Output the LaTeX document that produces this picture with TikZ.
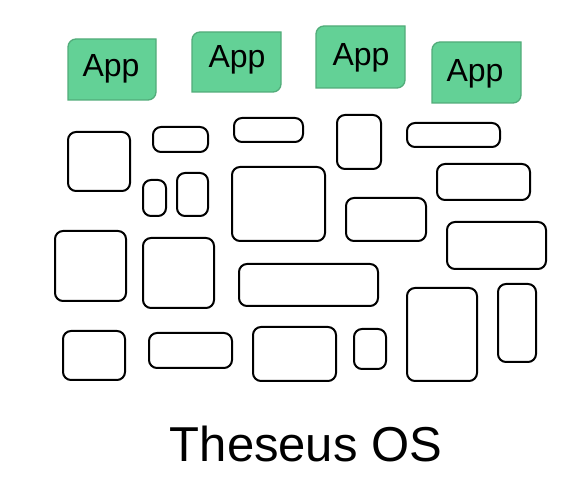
\documentclass[tikz,border=0pt]{standalone}
\usepackage{fontspec}
\setmainfont{Liberation Sans}
\definecolor{appfill}{RGB}{99,209,150}
\definecolor{appline}{RGB}{82,172,122}
\newcommand\blkbox[5]{%
  \node[blk, minimum width={(#4-#2-2)*1pt}, minimum height={(#5-#3-2)*1pt}] (#1) at ({(#2+#4)/2},{(#3+#5)/2}) {};}
\newcommand\appshape[4]{%
  \draw[appbox] (#1,#4) -- (#1,#2+8) .. controls (#1,#2+3.6) and (#1+3.6,#2) .. (#1+8,#2)
    -- (#3,#2) -- (#3,#4-8) .. controls (#3,#4-3.6) and (#3-3.6,#4) .. (#3-8,#4) -- cycle;}
\begin{document}
\begin{tikzpicture}[x=1pt,y=-1pt,
  blk/.style={draw=black, line width=2pt, rounded corners=8pt, inner sep=0pt, outer sep=0pt, fill=white},
  appbox/.style={fill=appfill, draw=appline, line width=1.3pt},
  apptext/.style={anchor=base, inner sep=0pt, font=\fontsize{32}{36}\selectfont},
  title/.style={anchor=base, inner sep=0pt, font=\fontsize{49}{52}\selectfont}]
\useasboundingbox (0,0) rectangle (587,502);
% apps
\appshape{68}{39}{156}{100}
\node[apptext] (app1) at (111,77) {App};
\appshape{192}{32}{281}{92}
\node[apptext] (app2) at (237,68) {App};
\appshape{316}{26}{405}{88}
\node[apptext] (app3) at (361,66) {App};
\appshape{432}{42}{521}{103}
\node[apptext] (app4) at (475,82) {App};
% components
\blkbox{b1}{67}{131}{131}{192}
\blkbox{b2}{152}{126}{209}{153}
\blkbox{b3}{233}{117}{304}{143}
\blkbox{b4}{142}{179}{167}{217}
\blkbox{b5}{176}{172}{209}{217}
\blkbox{b6}{231}{166}{326}{242}
\blkbox{b7}{336}{114}{382}{170}
\blkbox{b8}{406}{122}{501}{148}
\blkbox{b9}{436}{163}{531}{201}
\blkbox{b10}{345}{197}{427}{242}
\blkbox{b11}{446}{221}{547}{270}
\blkbox{b12}{54}{230}{127}{302}
\blkbox{b13}{142}{237}{215}{309}
\blkbox{b14}{238}{263}{379}{307}
\blkbox{b15}{406}{287}{478}{382}
\blkbox{b16}{497}{283}{537}{363}
\blkbox{b17}{62}{330}{126}{381}
\blkbox{b18}{148}{332}{233}{369}
\blkbox{b19}{252}{326}{337}{382}
\blkbox{b20}{353}{328}{387}{370}
\node[title] (os) at (306,462) {Theseus OS};
\end{tikzpicture}
\end{document}
